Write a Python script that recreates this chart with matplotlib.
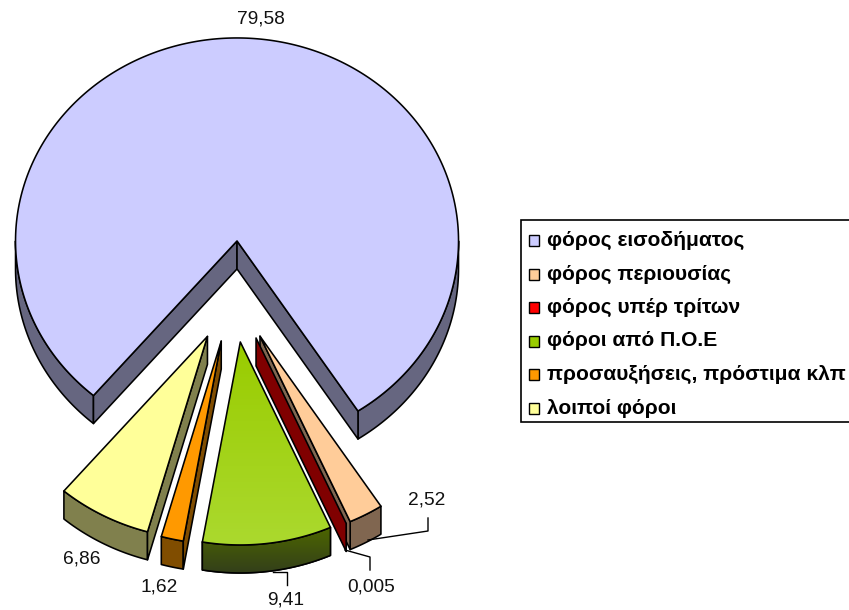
import numpy as np
import matplotlib
matplotlib.use('Agg')
import matplotlib.pyplot as plt
from matplotlib.patches import Polygon, Rectangle

plt.rcParams['font.family'] = ['Liberation Sans', 'DejaVu Sans']

categories = ['φόρος εισοδήματος', 'φόρος περιουσίας', 'φόρος υπέρ τρίτων',
              'φόροι από Π.Ο.Ε', 'προσαυξήσεις, πρόστιμα κλπ', 'λοιποί φόροι']
values = [79.58, 2.52, 0.005, 9.41, 1.62, 6.86]
value_labels = ['79,58', '2,52', '0,005', '9,41', '1,62', '6,86']
top_colors = ['#CCCCFF', '#FFCC99', '#FF0000', '#99CC00', '#FF9900', '#FFFF99']
side_colors = ['#666680', '#806650', '#800000', '#4D6600', '#804D00', '#80804D']

# pie geometry in pixels
cx, cy = 233.5, 291.6
rx, ry = 221.5, 203
depth = 28
explode = 0.25
start_angle = 220.4

label_pos = [(261, 19), (427, 500), (371, 587), (286, 600), (159, 587), (82, 559)]
leaders = {1: [(428, 518), (428, 531), (368, 540)],
           2: [(370, 570), (370, 557), (345, 550)],
           3: [(287, 585), (287, 572), (273, 572)]}
legend_y = [240, 274, 307, 341, 374, 408]


def rim(t0, t1, n=80):
    t = np.radians(np.linspace(t0, t1, n))
    return np.column_stack([rx * np.sin(t), -ry * np.cos(t)])


def gradient_fill(ax, poly, c0, c1):
    xy = poly.get_xy()
    x0, x1 = xy[:, 0].min(), xy[:, 0].max()
    y0, y1 = xy[:, 1].min(), xy[:, 1].max()
    ramp = np.linspace(0, 1, 64)[:, None, None]
    rgb = (1 - ramp) * np.array(matplotlib.colors.to_rgb(c0)) + ramp * np.array(matplotlib.colors.to_rgb(c1))
    im = ax.imshow(rgb, extent=(x0, x1, y1, y0), aspect='auto', zorder=poly.get_zorder())
    im.set_clip_path(poly)


fig = plt.figure(figsize=(8.49, 6.1), dpi=100)
ax = fig.add_axes([0, 0, 1, 1])
ax.axis('off')

edge = dict(edgecolor='black', linewidth=1.15, joinstyle='round')
angle = start_angle
for i, val in enumerate(values):
    sweep = val / sum(values) * 360
    t0, t1 = angle, angle + sweep
    angle = t1
    mid = np.radians((t0 + t1) / 2)
    ox = cx + explode * rx * np.sin(mid)
    oy = cy - explode * ry * np.cos(mid)
    apex = np.array([ox, oy])
    down = np.array([0, depth])
    z = 2 + i

    # outer wall, only the part that faces the viewer
    for lo, hi in [(90, 270), (450, 630)]:
        a, b = max(t0, lo), min(t1, hi)
        if a < b:
            arc = apex + rim(a, b)
            ax.add_patch(Polygon(np.vstack([arc, arc[::-1] + down]), facecolor=side_colors[i], zorder=z, **edge))
            if i == 3:
                wall = Polygon(np.vstack([arc, arc[::-1] + down]), facecolor='none', zorder=z)
                ax.add_patch(wall)
                gradient_fill(ax, wall, '#4D6600', '#333F1A')
                ax.add_patch(Polygon(np.vstack([arc, arc[::-1] + down]), facecolor='none', zorder=z, **edge))

    # cut faces
    if t0 % 360 > 180:
        p = apex + rim(t0, t0, 1)[0]
        ax.add_patch(Polygon([apex, p, p + down, apex + down], facecolor=side_colors[i], zorder=z, **edge))
    if t1 % 360 < 180:
        p = apex + rim(t1, t1, 1)[0]
        ax.add_patch(Polygon([apex, p, p + down, apex + down], facecolor=side_colors[i], zorder=z, **edge))

    # top face
    top = np.vstack([apex, apex + rim(t0, t1, max(int(sweep * 2), 4))])
    if i == 3:
        clip = Polygon(top, facecolor='none', zorder=z + 0.1)
        ax.add_patch(clip)
        gradient_fill(ax, clip, '#99CC00', '#ABD92E')
        ax.add_patch(Polygon(top, facecolor='none', zorder=z + 0.2, **edge))
    elif val >= 0.1:
        ax.add_patch(Polygon(top, facecolor=top_colors[i], zorder=z + 0.1, **edge))

for xs in leaders.values():
    ax.plot(*zip(*xs), color='black', lw=1.0, zorder=20)

for (x, y), lab in zip(label_pos, value_labels):
    ax.text(x, y, lab, ha='center', va='center', fontsize=13.8, color='#111111', zorder=21)

# legend
ax.add_patch(Rectangle((521, 220), 340, 202, facecolor='white', edgecolor='black', linewidth=1.2, zorder=1))
for y, lab, col in zip(legend_y, categories, top_colors):
    ax.add_patch(Rectangle((529, y - 5), 10.5, 10.5, facecolor=col, edgecolor='black', linewidth=1.0, zorder=3))
    ax.text(547, y, lab, ha='left', va='center', fontsize=15.1, fontweight='bold', color='black', zorder=3)

ax.set_xlim(0, 849)
ax.set_ylim(610, 0)
fig.savefig('out.png', dpi=100)
